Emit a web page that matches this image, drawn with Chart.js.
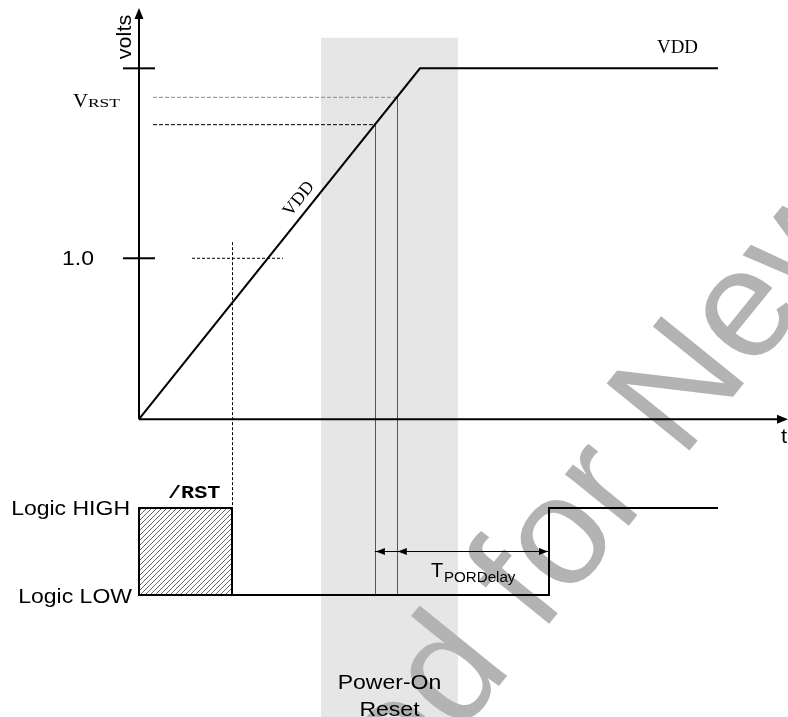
<!DOCTYPE html>
<html>
<head>
<meta charset="utf-8">
<script src="https://cdn.jsdelivr.net/npm/chart.js@4.4.1/dist/chart.umd.min.js"></script>
<style>
  html, body { margin: 0; padding: 0; background: #fff; }
  #wrap { width: 788px; height: 717px; }
</style>
</head>
<body>
<div id="wrap"><canvas id="porChart" width="788" height="717"></canvas></div>
<script>
// time axis runs 0..649 (arbitrary units)
const timeMax = 649;

// VDD ramp (volts)
const vddTime = [0, 281, 579];
const vddVolts = [0, 2.18, 2.18];

// reset thresholds: falling / rising
const vrstLevels = [1.83, 2.0];
const vrstLineStart = 14;

// 1.0 V marker
const oneVoltSpan = [53, 144];
const oneVoltMarkTop = 1.1;

// /RST logic signal (0 = LOW, 1 = HIGH)
const rstTime = [93, 93, 0, 0, 410, 410, 579];
const rstLevel = [0, 1, 1, 0, 0, 1, 1];
const rstHatchTime = [0, 93];
const rstHatchLevel = [1, 1];

// power-on reset window
const porBand = [182, 319];
const porBandTop = 2.37;

// T_PORDelay arrow
const delayLevel = 0.5;

// y ticks
const yTicks = [1.0, 2.18];
const yTickLabels = ['1.0', ''];

function pts(xs, ys) {
    return xs.map((v, i) => ({ x: v, y: ys[i] }));
}

// time where the ramp reaches a given voltage
function rampTime(level) {
    return level / vddVolts[1] * vddTime[1];
}

const tFall = rampTime(vrstLevels[0]);
const tRise = rampTime(vrstLevels[1]);

const canvas = document.getElementById('porChart');
const ctx = canvas.getContext('2d');

function hatchPattern() {
    const c = document.createElement('canvas');
    c.width = 5;
    c.height = 5;
    const g = c.getContext('2d');
    g.fillStyle = '#ffffff';
    g.fillRect(0, 0, 5, 5);
    g.strokeStyle = '#555555';
    g.lineWidth = 0.9;
    g.beginPath();
    g.moveTo(0, 5); g.lineTo(5, 0);
    g.moveTo(-1, 1); g.lineTo(1, -1);
    g.moveTo(4, 6); g.lineTo(6, 4);
    g.stroke();
    return ctx.createPattern(c, 'repeat');
}

function label(c, str, px, py, font, align, sx) {
    c.save();
    c.translate(px, py);
    c.scale(sx || 1, 1);
    c.font = font;
    c.textAlign = align;
    c.textBaseline = 'alphabetic';
    c.fillStyle = '#000';
    c.fillText(str, 0, 0);
    c.restore();
}

function arrowHead(c, tipX, tipY, dx, dy, len, half) {
    c.beginPath();
    c.moveTo(tipX, tipY);
    c.lineTo(tipX - dx * len - dy * half, tipY - dy * len + dx * half);
    c.lineTo(tipX - dx * len + dy * half, tipY - dy * len - dx * half);
    c.closePath();
    c.fill();
}

function line(c, x1, y1, x2, y2) {
    c.beginPath();
    c.moveTo(x1, y1);
    c.lineTo(x2, y2);
    c.stroke();
}

const diagram = {
    id: 'diagram',
    beforeDatasetsDraw(chart) {
        const c = chart.ctx;
        const { x, y, y2 } = chart.scales;

        // Power-On Reset band
        c.save();
        c.fillStyle = '#e6e6e6';
        const bx0 = x.getPixelForValue(porBand[0]);
        const bx1 = x.getPixelForValue(porBand[1]);
        const by0 = y.getPixelForValue(porBandTop);
        c.fillRect(bx0, by0, bx1 - bx0, chart.height - by0);

        // watermark
        c.translate(405, 802);
        c.rotate(-51 * Math.PI / 180);
        c.font = '155px "Liberation Sans", Arial, sans-serif';
        c.fillStyle = '#b3b3b3';
        c.textAlign = 'right';
        c.fillText('Licens', 0, 0);
        c.textAlign = 'left';
        c.fillText('ed for New', 0, 0);
        c.restore();

        // vertical connectors from VDD thresholds down to the logic trace
        c.save();
        c.strokeStyle = '#555555';
        c.lineWidth = 1;
        [[tFall, vrstLevels[0]], [tRise, vrstLevels[1]]].forEach(([t, v]) => {
            const px = Math.round(x.getPixelForValue(t)) + 0.5;
            line(c, px, y.getPixelForValue(v), px, y2.getPixelForValue(0));
        });
        // dashed marker where /RST releases
        c.strokeStyle = '#000';
        c.setLineDash([3, 2]);
        const rx = Math.round(x.getPixelForValue(rstHatchTime[1])) + 0.5;
        line(c, rx, y.getPixelForValue(oneVoltMarkTop), rx, y2.getPixelForValue(1));
        c.restore();
    },
    afterDatasetsDraw(chart) {
        const c = chart.ctx;
        const { x, y, y2 } = chart.scales;
        const x0 = x.getPixelForValue(0);
        const yZero = y.getPixelForValue(0);

        c.save();
        c.strokeStyle = '#000';
        c.fillStyle = '#000';
        c.lineWidth = 2;

        // y axis with arrow
        line(c, x0, yZero, x0, 16);
        arrowHead(c, x0, 8, 0, -1, 11, 4.5);
        // x axis with arrow
        line(c, x0, yZero, chart.width - 6, yZero);
        arrowHead(c, chart.width, yZero, 1, 0, 11, 4.5);
        // ticks
        yTicks.forEach(v => {
            const py = y.getPixelForValue(v);
            line(c, x0 - 16, py, x0 + 16, py);
        });

        // T_PORDelay arrowheads
        const ay = y2.getPixelForValue(delayLevel);
        arrowHead(c, x.getPixelForValue(tFall) + 1, ay, -1, 0, 9, 3.5);
        arrowHead(c, x.getPixelForValue(tRise) + 1, ay, -1, 0, 9, 3.5);
        arrowHead(c, x.getPixelForValue(rstTime[4]) - 1, ay, 1, 0, 9, 3.5);
        c.restore();

        // tick labels
        const sans = '"Liberation Sans", Arial, sans-serif';
        const serif = '"Liberation Serif", "Times New Roman", serif';
        yTicks.forEach((v, i) => {
            if (yTickLabels[i]) {
                label(c, yTickLabels[i], x0 - 45, y.getPixelForValue(v) + 7, '20px ' + sans, 'right', 1.15);
            }
        });

        // V_RST
        const vrstY = y.getPixelForValue((vrstLevels[0] + vrstLevels[1]) / 2) - 4;
        label(c, 'V', 73, vrstY, '18px ' + serif, 'left', 1.15);
        label(c, 'RST', 88, vrstY, '12px ' + serif, 'left', 1.45);

        // volts
        c.save();
        c.translate(131, 37);
        c.rotate(-Math.PI / 2);
        c.scale(1.08, 1);
        c.font = '20px ' + sans;
        c.textAlign = 'center';
        c.fillStyle = '#000';
        c.fillText('volts', 0, 0);
        c.restore();

        // t
        label(c, 't', x.getPixelForValue(642), yZero + 24, '20px ' + sans, 'left', 1.1);

        // VDD labels
        label(c, 'VDD', x.getPixelForValue(518), y.getPixelForValue(vddVolts[1]) - 15, '18px ' + serif, 'left', 1.05);
        const rx0 = x.getPixelForValue(vddTime[0]), ry0 = y.getPixelForValue(vddVolts[0]);
        const rx1 = x.getPixelForValue(vddTime[1]), ry1 = y.getPixelForValue(vddVolts[1]);
        const ang = Math.atan2(ry1 - ry0, rx1 - rx0);
        const tLab = 170;
        c.save();
        c.translate(x.getPixelForValue(tLab), y.getPixelForValue(tLab / vddTime[1] * vddVolts[1]));
        c.rotate(ang);
        c.font = '18px ' + serif;
        c.textAlign = 'center';
        c.fillStyle = '#000';
        c.fillText('VDD', 0, -8);
        c.restore();

        // logic labels
        const mono = 'bold 19px "Liberation Mono", "Courier New", monospace';
        label(c, '/RST', 168, y2.getPixelForValue(1) - 10, mono, 'left', 1.15);
        label(c, 'Logic HIGH', 130, y2.getPixelForValue(1) + 7, '20px ' + sans, 'right', 1.15);
        label(c, 'Logic LOW', 132, y2.getPixelForValue(0) + 8, '20px ' + sans, 'right', 1.15);

        // T_PORDelay
        label(c, 'T', 431, ay + 25, '20px ' + sans, 'left', 1.0);
        label(c, 'PORDelay', 444, ay + 30, '14px ' + sans, 'left', 1.08);

        // Power-On Reset
        const bandMid = x.getPixelForValue((porBand[0] + porBand[1]) / 2);
        label(c, 'Power-On', bandMid, 689, '20px ' + sans, 'center', 1.15);
        label(c, 'Reset', bandMid, 716, '20px ' + sans, 'center', 1.15);
    }
};

const lineDefaults = {
    showLine: true,
    pointRadius: 0,
    fill: false,
    clip: false,
    tension: 0
};

new Chart(ctx, {
    type: 'scatter',
    data: {
        datasets: [
            {
                ...lineDefaults,
                label: 'VDD',
                data: pts(vddTime, vddVolts),
                borderColor: '#000',
                borderWidth: 2,
                yAxisID: 'y'
            },
            {
                ...lineDefaults,
                label: 'VRST rising',
                data: pts([vrstLineStart, tRise], [vrstLevels[1], vrstLevels[1]]),
                borderColor: '#8a8a8a',
                borderWidth: 1,
                borderDash: [4, 2],
                yAxisID: 'y'
            },
            {
                ...lineDefaults,
                label: 'VRST falling',
                data: pts([vrstLineStart, tFall], [vrstLevels[0], vrstLevels[0]]),
                borderColor: '#000',
                borderWidth: 1,
                borderDash: [4, 2],
                yAxisID: 'y'
            },
            {
                ...lineDefaults,
                label: '1.0 V',
                data: pts(oneVoltSpan, [1, 1]),
                borderColor: '#000',
                borderWidth: 1,
                borderDash: [3, 2],
                yAxisID: 'y'
            },
            {
                ...lineDefaults,
                label: '/RST',
                data: pts(rstTime, rstLevel),
                borderColor: '#000',
                borderWidth: 2,
                yAxisID: 'y2'
            },
            {
                ...lineDefaults,
                label: 'TPORDelay',
                data: pts([tFall, rstTime[4]], [delayLevel, delayLevel]),
                borderColor: '#000',
                borderWidth: 1,
                yAxisID: 'y2'
            },
            {
                ...lineDefaults,
                label: 'undefined state',
                data: pts(rstHatchTime, rstHatchLevel),
                borderWidth: 0,
                borderColor: 'rgba(0,0,0,0)',
                backgroundColor: hatchPattern(),
                fill: { value: 0 },
                yAxisID: 'y2'
            }
        ]
    },
    options: {
        responsive: false,
        animation: false,
        devicePixelRatio: 1,
        layout: { padding: { left: 139, right: 0, top: 12, bottom: 0 } },
        plugins: {
            legend: { display: false },
            tooltip: { enabled: false }
        },
        scales: {
            x: { type: 'linear', min: 0, max: timeMax, display: false },
            y: { type: 'linear', min: -1.85, max: 2.53, display: false },
            y2: { type: 'linear', min: -1.402, max: 6.701, display: false }
        }
    },
    plugins: [diagram]
});
</script>
</body>
</html>
